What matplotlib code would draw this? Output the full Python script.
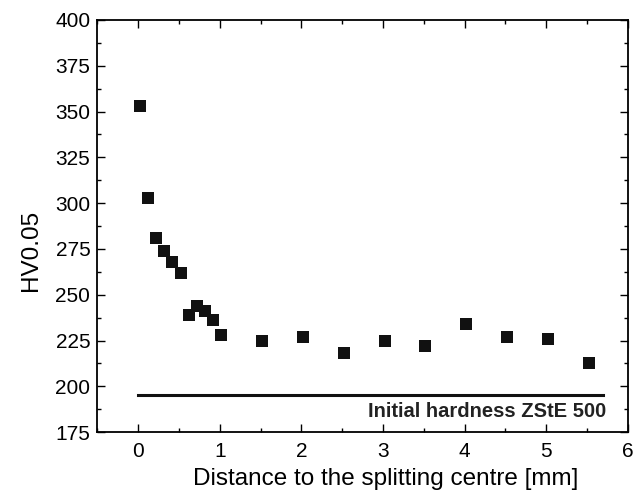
import matplotlib
matplotlib.use('Agg')
import matplotlib.pyplot as plt
from matplotlib.ticker import MultipleLocator

# hardness profile
distance = [0.02, 0.12, 0.22, 0.32, 0.42, 0.52, 0.62, 0.72, 0.82, 0.92, 1.02,
            1.52, 2.02, 2.52, 3.02, 3.52, 4.02, 4.52, 5.02, 5.52]
hardness = [353, 303, 281, 274, 268, 262, 239, 244, 241, 236, 228,
            225, 227, 218, 225, 222, 234, 227, 226, 213]

initial_x = [0.0, 5.69]
initial_hv = [195, 195]
initial_label = 'Initial hardness ZStE 500'

plt.rcParams['font.family'] = ['Liberation Sans', 'DejaVu Sans']

fig = plt.figure(figsize=(6.4, 4.99), dpi=100)
ax = fig.add_axes([0.152, 0.134, 0.829, 0.826])

ax.plot(distance, hardness, 's', color='#111111', markersize=8, markeredgewidth=0)
ax.plot(initial_x, initial_hv, color='#111111', linewidth=2.2)
ax.text(5.73, 183, initial_label, ha='right', va='baseline', fontsize=14.5,
        fontweight='bold', color='#222222')

ax.set_xlim(-0.5, 6)
ax.set_ylim(175, 400)
ax.xaxis.set_major_locator(MultipleLocator(1))
ax.xaxis.set_minor_locator(MultipleLocator(0.5))
ax.yaxis.set_major_locator(MultipleLocator(25))
ax.yaxis.set_minor_locator(MultipleLocator(12.5))

ax.tick_params(which='both', direction='in', top=True, right=True, width=1, labelsize=15)
ax.tick_params(axis='x', pad=7)
ax.tick_params(axis='y', pad=5)
ax.tick_params(which='major', length=6)
ax.tick_params(which='minor', length=3)
for s in ax.spines.values():
    s.set_linewidth(1.3)

ax.set_xlabel('Distance to the splitting centre [mm]', fontsize=17.5)
ax.set_ylabel('HV0.05', fontsize=17.5)
ax.xaxis.set_label_coords(0.544, -0.088)
ax.yaxis.set_label_coords(-0.105, 0.44)

fig.savefig('out.png', dpi=100)
